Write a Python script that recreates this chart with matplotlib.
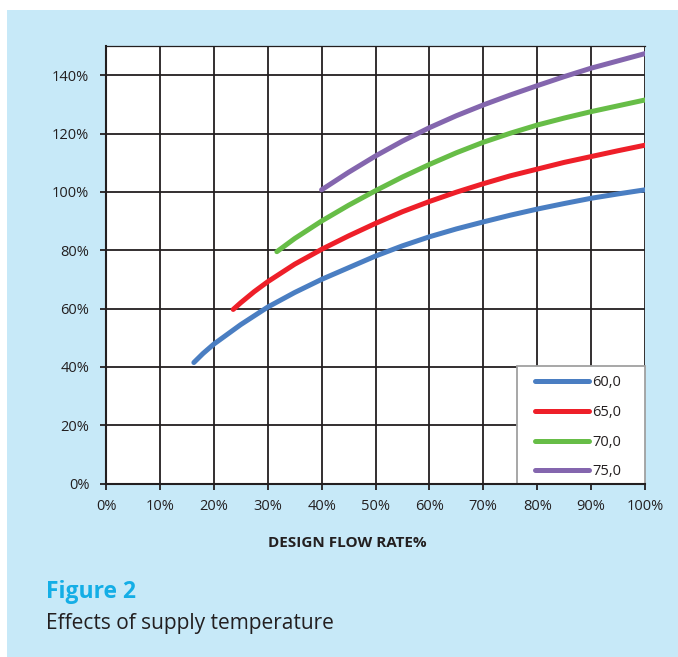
import matplotlib
matplotlib.use("Agg")
import matplotlib.pyplot as plt
from matplotlib.patches import Rectangle
from matplotlib.ticker import FuncFormatter, MultipleLocator

# ---- data ----
series_labels = ["60,0", "65,0", "70,0", "75,0"]
series_colors = ["#4a7ec2", "#ee1f29", "#67bd47", "#8466ae"]

x_60 = [16.3, 18, 20, 25, 30, 35, 40, 45, 50, 55, 60, 65, 70, 75, 80, 85, 90, 95, 100]
y_60 = [41.5, 44.6, 47.8, 54.5, 60.5, 65.5, 70.0, 74.0, 78.0, 81.5, 84.6, 87.3, 89.7,
        92.0, 94.1, 96.0, 97.8, 99.3, 100.7]

x_65 = [23.6, 25, 27.5, 30, 35, 40, 45, 50, 55, 60, 65, 70, 75, 80, 85, 90, 95, 100]
y_65 = [59.7, 62.0, 65.8, 69.2, 75.2, 80.3, 84.9, 89.2, 93.2, 96.7, 99.9, 102.8, 105.5,
        107.8, 110.1, 112.1, 114.1, 116.0]

x_70 = [31.7, 35, 40, 45, 50, 55, 60, 65, 70, 75, 80, 85, 90, 95, 100]
y_70 = [79.5, 84.0, 90.0, 95.4, 100.4, 105.1, 109.4, 113.4, 117.0, 120.1, 122.9,
        125.3, 127.5, 129.5, 131.5]

x_75 = [40, 45, 50, 55, 60, 65, 70, 75, 80, 85, 90, 95, 100]
y_75 = [100.7, 106.7, 112.3, 117.4, 122.0, 126.1, 129.8, 133.2, 136.4, 139.5,
        142.4, 144.9, 147.4]

xs = [x_60, x_65, x_70, x_75]
ys = [y_60, y_65, y_70, y_75]

x_label = "DESIGN FLOW RATE%"
fig_title = "Figure 2"
fig_caption = "Effects of supply temperature"

# ---- figure ----
plt.rcParams['font.family'] = ['Open Sans', 'DejaVu Sans']
W, H = 678, 657
fig = plt.figure(figsize=(W / 100, H / 100), dpi=100, facecolor="white")
bg = "#c7e9f8"
fig.patches.append(Rectangle((7 / W, 0), 1 - 7 / W, (H - 10) / H,
                             transform=fig.transFigure, facecolor=bg,
                             edgecolor="none", zorder=-10))

ax = fig.add_axes([106 / W, (H - 483.6) / H, (645 - 106) / W, (483.6 - 46) / H])
ax.set_facecolor("white")
ax.set_xlim(0, 100)
ax.set_ylim(0, 150)

for x, y, c, lab in zip(xs, ys, series_colors, series_labels):
    ax.plot(x, y, color=c, lw=3.6, solid_capstyle="round",
            solid_joinstyle="round", label=lab, zorder=3)

ax.xaxis.set_major_locator(MultipleLocator(10))
ax.yaxis.set_major_locator(MultipleLocator(20))
pct = FuncFormatter(lambda v, p: f"{v:.0f}%")
ax.xaxis.set_major_formatter(pct)
ax.yaxis.set_major_formatter(pct)
ax.grid(True, color="#231f20", lw=1.3, zorder=1)
ax.set_axisbelow(True)

for side in ["left", "bottom"]:
    ax.spines[side].set_color("#231f20")
    ax.spines[side].set_linewidth(1.5)
    ax.spines[side].set_zorder(6)
ax.spines["top"].set_color("#231f20")
ax.spines["top"].set_linewidth(0.9)
ax.spines["right"].set_visible(False)

ax.tick_params(axis="both", direction="out", length=4, width=1.3,
               color="#231f20", labelsize=10.5, labelcolor="#231f20")
ax.tick_params(axis="y", pad=8)
ax.tick_params(axis="x", pad=7)

# legend box (frame drawn separately to match the reference padding)
lx0 = (517.3 - 106) / 539
ly1 = (483.6 - 366) / 437.6
ax.add_patch(Rectangle((lx0, 0), 1 - lx0, ly1, transform=ax.transAxes,
                       facecolor="white", edgecolor="#a0a0a0", lw=1.3,
                       zorder=4, clip_on=False))
leg = ax.legend(loc="upper left",
                bbox_to_anchor=((535 - 106) / 539, (483.6 - 375.5) / 437.6),
                borderaxespad=0, frameon=False, borderpad=0,
                fontsize=10.5, handlelength=3.7, handletextpad=0.25,
                labelspacing=1.0)
leg.set_zorder(5)
for t in leg.get_texts():
    t.set_color("#231f20")
for lh in leg.get_lines():
    lh.set_solid_capstyle("round")

fig.text(347.8 / W, 1 - 543 / H, x_label, ha="center", va="center",
         fontsize=11, fontweight="bold", color="#231f20")
fig.text(46 / W, 1 - 592 / H, fig_title, ha="left", va="center",
         fontsize=16.5, fontweight="bold", color="#14aee6")
fig.text(46 / W, 1 - 624 / H, fig_caption, ha="left", va="center",
         fontsize=15, color="#231f20")

fig.savefig("out.png", dpi=100, facecolor=fig.get_facecolor())
